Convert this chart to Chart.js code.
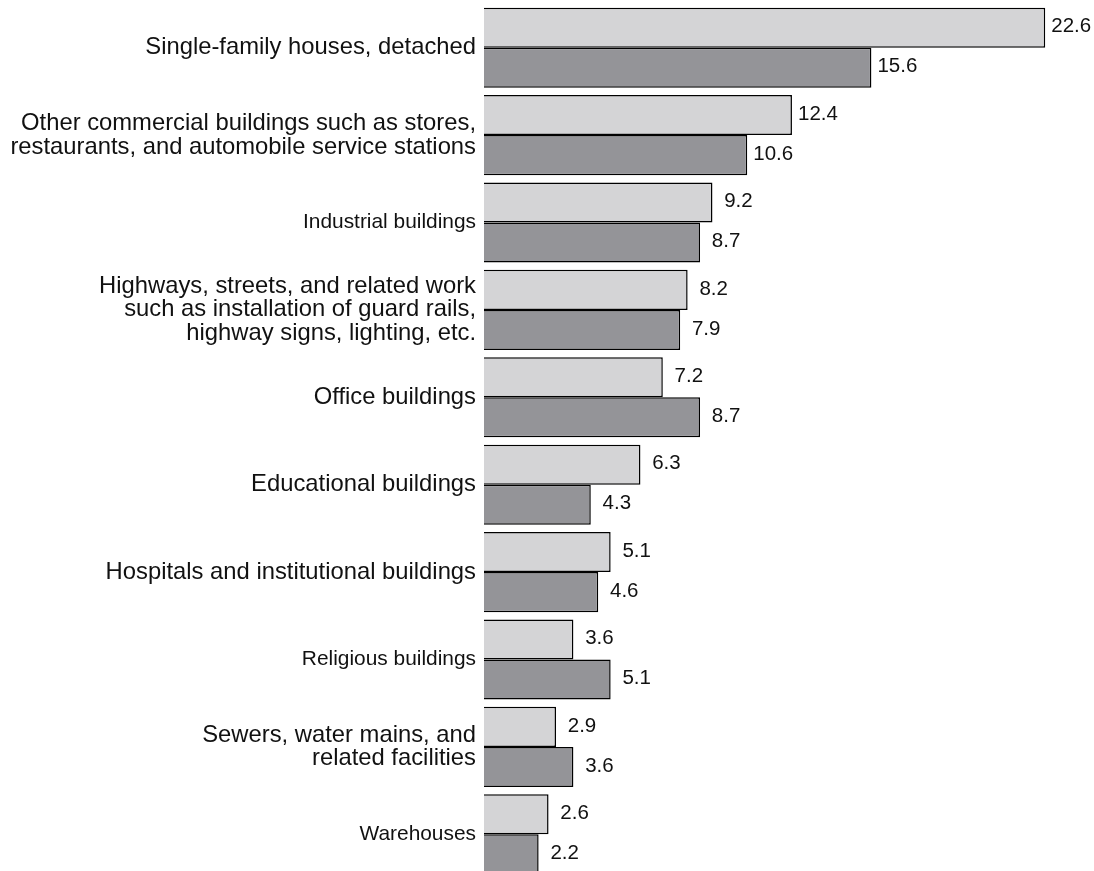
<!DOCTYPE html>
<html>
<head>
<meta charset="utf-8">
<script src="https://cdn.jsdelivr.net/npm/chart.js@4.4.0/dist/chart.umd.min.js"></script>
<style>
  html, body { margin: 0; padding: 0; background: #fff; overflow: hidden; }
  #wrap { position: relative; width: 1094px; height: 880px; }
</style>
</head>
<body>
<div id="wrap"><canvas id="chart"></canvas></div>
<script>
// --- Data ---
const categories = [
  ["Single-family houses, detached"],
  ["Other commercial buildings such as stores,", "restaurants, and automobile service stations"],
  ["Industrial buildings"],
  ["Highways, streets, and related work", "such as installation of guard rails,", "highway signs, lighting, etc."],
  ["Office buildings"],
  ["Educational buildings"],
  ["Hospitals and institutional buildings"],
  ["Religious buildings"],
  ["Sewers, water mains, and", "related facilities"],
  ["Warehouses"]
];
const seriesLight = [22.6, 12.4, 9.2, 8.2, 7.2, 6.3, 5.1, 3.6, 2.9, 2.6];
const seriesDark = [15.6, 10.6, 8.7, 7.9, 8.7, 4.3, 4.6, 5.1, 3.6, 2.2];
// categories drawn with the smaller label font
const smallLabels = [2, 7, 9];

// --- Value labels next to bar ends ---
const valueLabels = {
  id: 'valueLabels',
  afterDatasetsDraw(chart) {
    const ctx = chart.ctx;
    ctx.save();
    ctx.font = '20.5px "Liberation Sans", Arial, sans-serif';
    ctx.fillStyle = '#111';
    ctx.textAlign = 'center';
    ctx.textBaseline = 'middle';
    chart.data.datasets.forEach((ds, di) => {
      chart.getDatasetMeta(di).data.forEach((bar, i) => {
        ctx.fillText(ds.data[i].toFixed(1), bar.x + 26, bar.y - 1);
      });
    });
    ctx.restore();
  }
};

const ctx = document.getElementById('chart').getContext('2d');
new Chart(ctx, {
  type: 'bar',
  data: {
    labels: categories,
    datasets: [
      {
        data: seriesLight,
        backgroundColor: '#d4d4d6',
        borderColor: '#000',
        borderWidth: 1.5,
        categoryPercentage: 0.916,
        barPercentage: 1
      },
      {
        data: seriesDark,
        backgroundColor: '#949498',
        borderColor: '#000',
        borderWidth: 1.5,
        categoryPercentage: 0.916,
        barPercentage: 1
      }
    ]
  },
  options: {
    indexAxis: 'y',
    responsive: true,
    maintainAspectRatio: false,
    animation: false,
    layout: { padding: { top: 4, bottom: 2, left: 0, right: 14 } },
    plugins: {
      legend: { display: false },
      tooltip: { enabled: false }
    },
    scales: {
      x: {
        display: false,
        min: 0,
        max: 24
      },
      y: {
        grid: { display: false, drawTicks: false },
        border: { display: false },
        afterFit(scale) {
          scale.width = 484;
          scale.paddingTop = 0;
          scale.paddingBottom = 0;
        },
        ticks: {
          padding: 8,
          color: '#111',
          font: (c) => ({
            family: '"Liberation Sans", Arial, sans-serif',
            size: smallLabels.includes(c.index) ? 20.9 : 23.8,
            lineHeight: 1.0
          })
        }
      }
    }
  },
  plugins: [valueLabels]
});
</script>
</body>
</html>
